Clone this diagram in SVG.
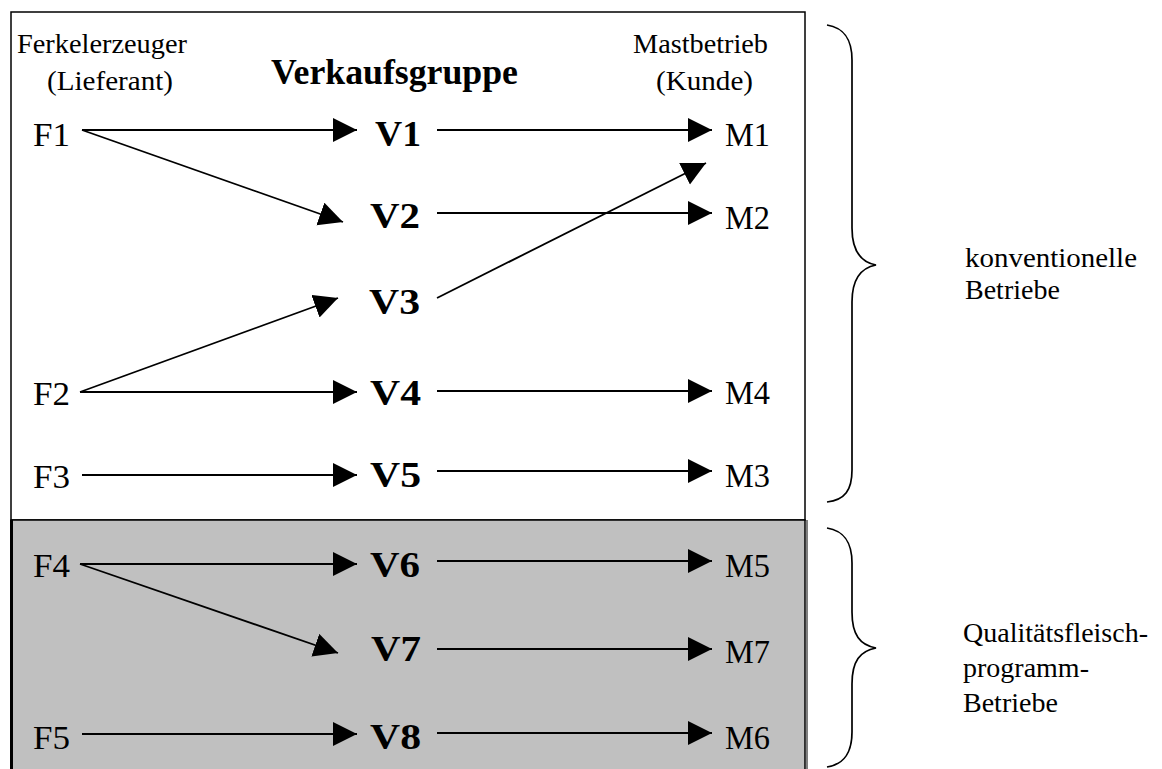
<svg xmlns="http://www.w3.org/2000/svg" width="1162" height="769" viewBox="0 0 1162 769">
<style>
.lbl{font-family:"Liberation Serif","Times New Roman",serif;font-size:33px;fill:#000}
.v{font-family:"Liberation Serif","Times New Roman",serif;font-size:36px;font-weight:bold;fill:#000}
.hd{font-family:"Liberation Serif","Times New Roman",serif;font-size:28px;fill:#000}
.side{font-family:"Liberation Serif","Times New Roman",serif;font-size:28px;fill:#000}
.conn line{stroke:#000;stroke-width:1.8;marker-end:url(#ah)}
.brace{fill:none;stroke:#000;stroke-width:1.7}
</style>
<defs>
<marker id="ah" markerUnits="userSpaceOnUse" markerWidth="26" markerHeight="26" refX="24" refY="12" orient="auto" viewBox="0 0 26 26">
<path d="M0,0 L24,12 L0,24 z" fill="#000"/>
</marker>
</defs>
<rect width="1162" height="769" fill="#fff"/>
<g id="frame">
<rect x="11" y="12" width="794" height="508" fill="#fff" stroke="#000" stroke-width="1.5"/>
<rect x="11" y="520" width="794" height="252" fill="#c0c0c0" stroke="#000" stroke-width="1.5"/>
<line x1="11.5" y1="520" x2="11.5" y2="769" stroke="#000" stroke-width="3"/>
<line x1="807" y1="520" x2="807" y2="769" stroke="#000" stroke-width="1"/>
</g>
<g id="headers">
<text class="hd" x="17" y="53" textLength="170" lengthAdjust="spacingAndGlyphs">Ferkelerzeuger</text>
<text class="hd" x="47" y="90" textLength="126" lengthAdjust="spacingAndGlyphs">(Lieferant)</text>
<text class="v" x="271" y="84" style="font-size:35px" textLength="247" lengthAdjust="spacingAndGlyphs">Verkaufsgruppe</text>
<text class="hd" x="633" y="53" textLength="135" lengthAdjust="spacingAndGlyphs">Mastbetrieb</text>
<text class="hd" x="656" y="90" textLength="97" lengthAdjust="spacingAndGlyphs">(Kunde)</text>
</g>
<g id="F1"><text class="lbl" x="33" y="146" textLength="37" lengthAdjust="spacingAndGlyphs">F1</text></g>
<g id="F2"><text class="lbl" x="33" y="405" textLength="37" lengthAdjust="spacingAndGlyphs">F2</text></g>
<g id="F3"><text class="lbl" x="33" y="488" textLength="37" lengthAdjust="spacingAndGlyphs">F3</text></g>
<g id="F4"><text class="lbl" x="33" y="577" textLength="37" lengthAdjust="spacingAndGlyphs">F4</text></g>
<g id="F5"><text class="lbl" x="33" y="749" textLength="37" lengthAdjust="spacingAndGlyphs">F5</text></g>
<g id="V1"><text class="v" x="375" y="146" textLength="46" lengthAdjust="spacingAndGlyphs">V1</text></g>
<g id="V2"><text class="v" x="370" y="228" textLength="50" lengthAdjust="spacingAndGlyphs">V2</text></g>
<g id="V3"><text class="v" x="369" y="314" textLength="51" lengthAdjust="spacingAndGlyphs">V3</text></g>
<g id="V4"><text class="v" x="370" y="405" textLength="51" lengthAdjust="spacingAndGlyphs">V4</text></g>
<g id="V5"><text class="v" x="370" y="487" textLength="51" lengthAdjust="spacingAndGlyphs">V5</text></g>
<g id="V6"><text class="v" x="370" y="577" textLength="50" lengthAdjust="spacingAndGlyphs">V6</text></g>
<g id="V7"><text class="v" x="371" y="661" textLength="50" lengthAdjust="spacingAndGlyphs">V7</text></g>
<g id="V8"><text class="v" x="370" y="749" textLength="51" lengthAdjust="spacingAndGlyphs">V8</text></g>
<g id="M1"><text class="lbl" x="725" y="146" textLength="45" lengthAdjust="spacingAndGlyphs">M1</text></g>
<g id="M2"><text class="lbl" x="725" y="229" textLength="45" lengthAdjust="spacingAndGlyphs">M2</text></g>
<g id="M4"><text class="lbl" x="725" y="404" textLength="45" lengthAdjust="spacingAndGlyphs">M4</text></g>
<g id="M3"><text class="lbl" x="725" y="487" textLength="45" lengthAdjust="spacingAndGlyphs">M3</text></g>
<g id="M5"><text class="lbl" x="725" y="577" textLength="45" lengthAdjust="spacingAndGlyphs">M5</text></g>
<g id="M7"><text class="lbl" x="725" y="663" textLength="45" lengthAdjust="spacingAndGlyphs">M7</text></g>
<g id="M6"><text class="lbl" x="725" y="749" textLength="45" lengthAdjust="spacingAndGlyphs">M6</text></g>
<g id="connectors" class="conn">
<line x1="82" y1="130" x2="357" y2="130"/>
<line x1="82" y1="130" x2="343" y2="222"/>
<line x1="437" y1="130" x2="712" y2="130"/>
<line x1="437" y1="213" x2="712" y2="213"/>
<line x1="437" y1="298" x2="706" y2="163"/>
<line x1="80" y1="392" x2="338" y2="298"/>
<line x1="80" y1="392" x2="357" y2="392"/>
<line x1="437" y1="391" x2="712" y2="391"/>
<line x1="82" y1="475" x2="357" y2="475"/>
<line x1="437" y1="471" x2="712" y2="471"/>
<line x1="80" y1="564" x2="357" y2="564"/>
<line x1="80" y1="564" x2="338" y2="653"/>
<line x1="437" y1="561" x2="712" y2="561"/>
<line x1="437" y1="649" x2="712" y2="649"/>
<line x1="82" y1="734" x2="357" y2="734"/>
<line x1="437" y1="733" x2="712" y2="733"/>
</g>
<g id="brace-konventionell">
<path class="brace" d="M827,25 C845,28 852,40 852,60 L852,228 C852,250 860,262 876,265 C860,268 852,280 852,302 L852,470 C852,490 845,500 827,502"/>
<text class="side" x="965" y="267" textLength="172" lengthAdjust="spacingAndGlyphs">konventionelle</text>
<text class="side" x="965" y="299">Betriebe</text>
</g>
<g id="brace-qualitaet">
<path class="brace" d="M827,528 C845,531 852,543 852,563 L852,612 C852,635 860,645 876,648 C860,651 852,661 852,684 L852,732 C852,752 845,764 827,767"/>
<text class="side" x="963" y="642" textLength="185" lengthAdjust="spacingAndGlyphs">Qualitätsfleisch-</text>
<text class="side" x="963" y="677">programm-</text>
<text class="side" x="963" y="712">Betriebe</text>
</g>
</svg>
